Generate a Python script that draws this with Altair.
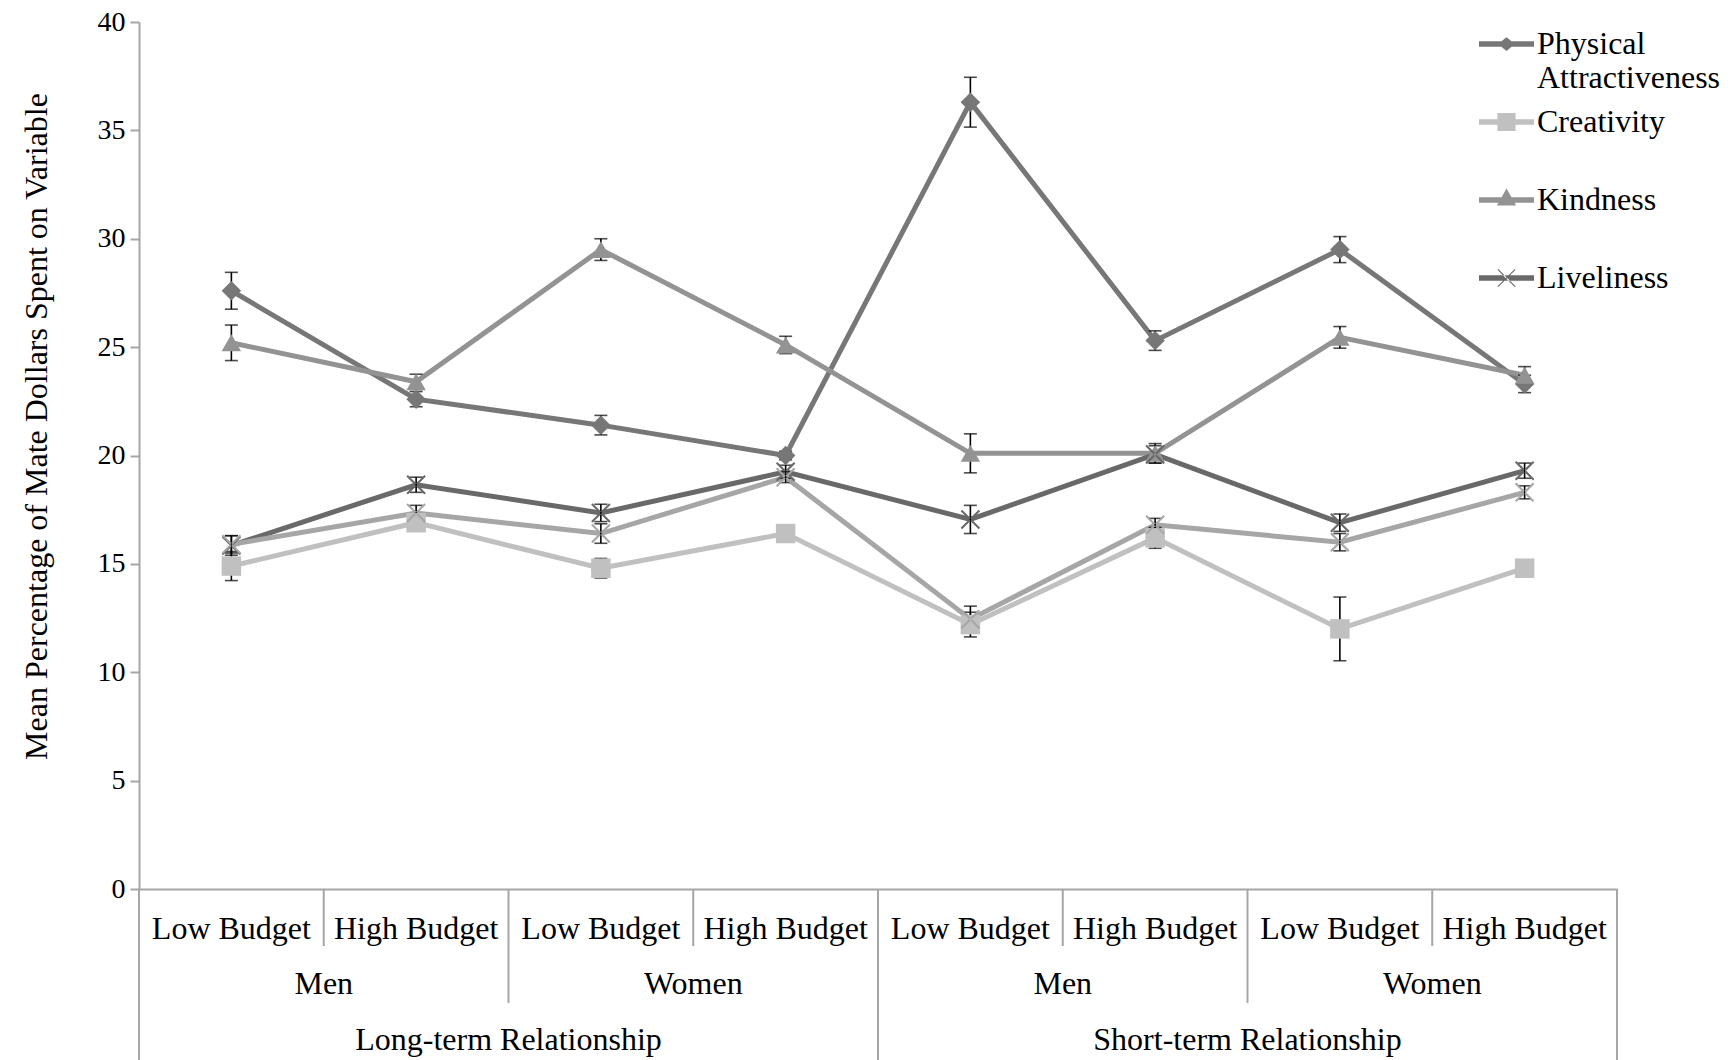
import altair as alt
import pandas as pd

# Category structure of the x axis (outer to inner)
relationships = ["Long-term Relationship", "Short-term Relationship"]
genders = ["Men", "Women"]
budgets = ["Low Budget", "High Budget"]

# Traits (the fifth series is plotted but has no legend entry)
traits = ["Physical Attractiveness", "Creativity", "Kindness", "Liveliness", "Other"]
legend_traits = traits[:4]

# Means and standard errors, in category order
physical = [27.6, 22.6, 21.4, 20.0, 36.3, 25.3, 29.5, 23.3]
physical_se = [0.85, 0.35, 0.45, 0.2, 1.15, 0.45, 0.6, 0.4]
creativity = [14.9, 16.9, 14.8, 16.4, 12.2, 16.2, 12.0, 14.8]
creativity_se = [0.67, 0.2, 0.45, 0.2, 0.57, 0.48, 1.47, 0.2]
kindness = [25.2, 23.4, 29.5, 25.1, 20.1, 20.1, 25.45, 23.7]
kindness_se = [0.82, 0.35, 0.5, 0.4, 0.9, 0.45, 0.5, 0.4]
liveliness = [15.85, 18.65, 17.35, 19.25, 17.05, 20.05, 16.9, 19.3]
liveliness_se = [0.45, 0.35, 0.4, 0.3, 0.65, 0.4, 0.4, 0.35]
other = [15.9, 17.35, 16.4, 19.0, 12.45, 16.8, 16.0, 18.3]
other_se = [0.4, 0.35, 0.45, 0.25, 0.6, 0.3, 0.4, 0.3]

means = [physical, creativity, kindness, liveliness, other]
errors = [physical_se, creativity_se, kindness_se, liveliness_se, other_se]

colors = ["#777777", "#c0c0c0", "#939393", "#696969", "#a6a6a6"]

# thin "x" marker as a filled outline
x_path = ("M-1,-0.85L0.85,1L1,0.85L-0.85,-1Z"
          "M1,-0.85L-0.85,1L-1,0.85L0.85,-1Z")
point_shapes = ["diamond", "square", "triangle-up", x_path, x_path]

# legend glyphs: a line segment with the marker on it
seg = "M-1,-0.1H1V0.1H-1Z"
legend_shapes = [
    seg + "M0,-0.25L0.31,0L0,0.25L-0.31,0Z",
    seg + "M-0.33,-0.33H0.33V0.33H-0.33Z",
    seg + "M0,-0.42L0.35,0.2H-0.35Z",
    seg + "M-0.33,-0.3L0.3,0.33L0.33,0.3L-0.3,-0.33Z"
          "M0.33,-0.3L-0.3,0.33L-0.33,0.3L0.3,-0.33Z",
]

FONT = "Liberation Serif"
AXIS_GRAY = "#a6a6a6"

# long table of plotted values
rows = []
for t_i, trait in enumerate(traits):
    idx = 0
    for rel in relationships:
        for g in genders:
            for b in budgets:
                v = means[t_i][idx]
                e = errors[t_i][idx]
                rows.append({"trait": trait, "pos": idx + 0.5, "value": v,
                             "lo": v - e, "hi": v + e})
                idx += 1
df = pd.DataFrame(rows)
df_legend = df[df["trait"].isin(legend_traits)]

# hierarchical axis labels and dividers
n_b, n_g = len(budgets), len(genders)
labels = []
dividers = []
for r_i, rel in enumerate(relationships):
    r0 = r_i * n_g * n_b
    labels.append({"text": rel, "pos": r0 + n_g * n_b / 2, "level": 2})
    dividers.append({"pos": r0, "depth": 3})
    for g_i, g in enumerate(genders):
        g0 = r0 + g_i * n_b
        labels.append({"text": g, "pos": g0 + n_b / 2, "level": 1})
        if g_i > 0:
            dividers.append({"pos": g0, "depth": 2})
        for b_i, b in enumerate(budgets):
            labels.append({"text": b, "pos": g0 + b_i + 0.5, "level": 0})
            if b_i > 0:
                dividers.append({"pos": g0 + b_i, "depth": 1})
dividers.append({"pos": len(relationships) * n_g * n_b, "depth": 3})
df_labels = pd.DataFrame(labels)
df_div = pd.DataFrame(dividers)
df_div["top"] = 0

n_cat = len(relationships) * n_g * n_b
x_scale = alt.Scale(domain=[0, n_cat], nice=False, zero=False)
x_enc = alt.X("pos:Q", scale=x_scale,
              axis=alt.Axis(labels=False, ticks=False, grid=False, title=None,
                            domainColor=AXIS_GRAY, domainWidth=2))
y_scale = alt.Scale(domain=[0, 40], nice=False)
y_enc = alt.Y("value:Q", scale=y_scale,
              axis=alt.Axis(values=list(range(0, 41, 5)), grid=False,
                            title="Mean Percentage of Mate Dollars Spent on Variable",
                            titleFont=FONT, titleFontSize=32, titleFontWeight="normal",
                            titleColor="black", titlePadding=44, titleY=404,
                            labelFont=FONT, labelFontSize=28, labelColor="black",
                            labelPadding=5, tickSize=9, tickWidth=2,
                            tickColor=AXIS_GRAY, domainColor=AXIS_GRAY, domainWidth=2))

color_main = alt.Color("trait:N", scale=alt.Scale(domain=traits, range=colors), legend=None)

base = alt.Chart(df)

lines = base.mark_line(strokeWidth=5).encode(
    x=x_enc, y=y_enc, color=color_main, detail="trait:N", order="pos:Q")

points = base.mark_point(filled=True, size=380, opacity=1, strokeWidth=0).encode(
    x="pos:Q", y="value:Q", color=color_main,
    shape=alt.Shape("trait:N", scale=alt.Scale(domain=traits, range=point_shapes),
                    legend=None))

# error bars sit beneath the markers
err_rule = base.mark_rule(color="black", strokeWidth=1.6).encode(
    x="pos:Q", y="lo:Q", y2="hi:Q")
err_lo = base.mark_tick(color="black", thickness=1.6, size=13, orient="horizontal").encode(
    x="pos:Q", y="lo:Q")
err_hi = base.mark_tick(color="black", thickness=1.6, size=13, orient="horizontal").encode(
    x="pos:Q", y="hi:Q")

legend_def = alt.Legend(
    orient="none", legendX=1340, legendY=-5.5, title=None, padding=0,
    labelFont=FONT, labelFontSize=32, labelColor="black", labelOffset=3,
    labelLimit=0, labelBaseline="middle", gridAlign="all",
    labelExpr="datum.label == 'Physical Attractiveness' ? ['Physical', 'Attractiveness'] : datum.label",
    symbolSize=3025, symbolStrokeWidth=0, symbolOpacity=1, rowPadding=0)

legend_layer = alt.Chart(df_legend).mark_point(filled=True, opacity=0, size=10).encode(
    x="pos:Q", y="value:Q",
    color=alt.Color("trait:N", scale=alt.Scale(domain=legend_traits, range=colors[:4]),
                    legend=legend_def),
    shape=alt.Shape("trait:N", scale=alt.Scale(domain=legend_traits, range=legend_shapes),
                    legend=legend_def))

plot = alt.layer(
    lines, err_rule, err_lo, err_hi, points, legend_layer
).resolve_scale(color="independent", shape="independent")

# category strip beneath the plot, on its own vertical scale
strip_scale = alt.Scale(domain=[0, 3], range=[867, 1038], nice=False, zero=False)
strip_rules = alt.Chart(df_div).mark_rule(color=AXIS_GRAY, strokeWidth=2).encode(
    x="pos:Q",
    y=alt.Y("top:Q", scale=strip_scale, axis=None),
    y2="depth:Q")
strip_text = alt.Chart(df_labels).transform_calculate(
    mid="datum.level + 0.5 - datum.level * 0.02"
).mark_text(font=FONT, fontSize=32, color="black", align="center",
            baseline="middle", dy=11).encode(
    x="pos:Q",
    y=alt.Y("mid:Q", scale=strip_scale, axis=None),
    text="text:N")

strip = alt.layer(strip_rules, strip_text)

chart = alt.layer(plot, strip).resolve_scale(
    y="independent"
).properties(
    width=1478, height=867, background="white",
    autosize=alt.AutoSizeParams(type="none"),
    padding={"left": 139, "top": 22, "right": 114, "bottom": 171},
).configure_view(stroke=None, strokeWidth=0)

chart.save("out.html", embed_options={"renderer": "svg", "actions": False})
